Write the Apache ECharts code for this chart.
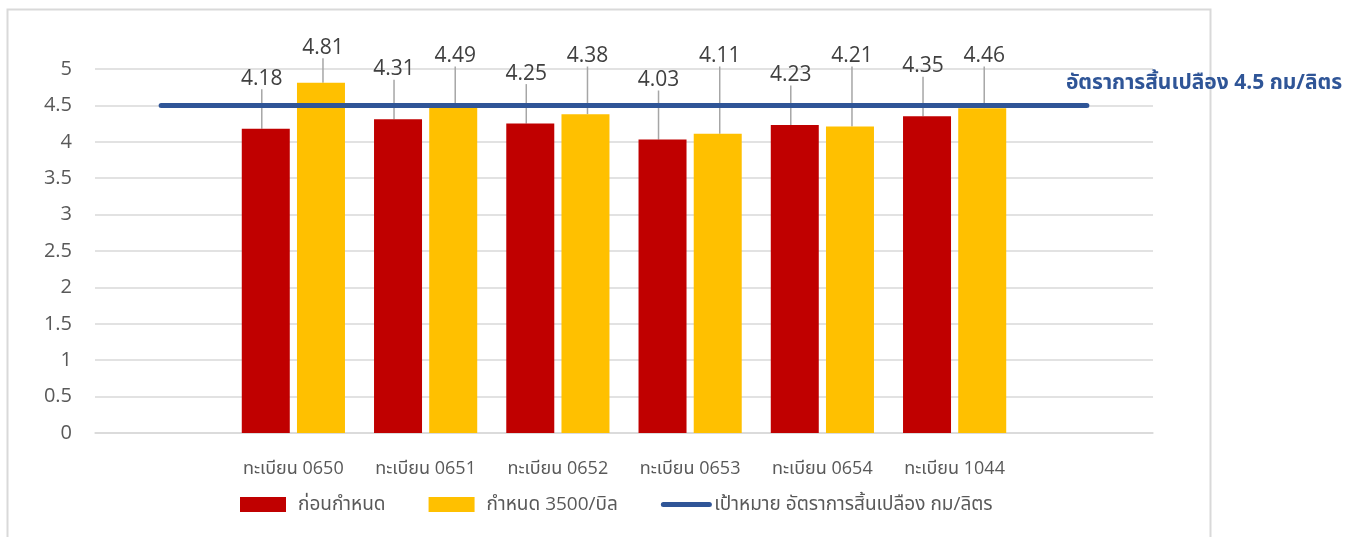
<!DOCTYPE html>
<html>
<head>
<meta charset="utf-8">
<script src="https://cdn.jsdelivr.net/npm/echarts@6/dist/echarts.min.js"></script>
<style>
html,body{margin:0;padding:0;background:#fff;}
#c{width:1358px;height:537px;}
</style>
</head>
<body>
<div id="c"></div>
<script>
const categories = ['', 'ทะเบียน 0650', 'ทะเบียน 0651', 'ทะเบียน 0652', 'ทะเบียน 0653', 'ทะเบียน 0654', 'ทะเบียน 1044', ''];
const beforeValues = [null, 4.18, 4.31, 4.25, 4.03, 4.23, 4.35, null];
const afterValues = [null, 4.81, 4.49, 4.38, 4.11, 4.21, 4.46, null];
const targetValues = [4.5, 4.5, 4.5, 4.5, 4.5, 4.5, 4.5, 4.5];
const seriesNames = ['ก่อนกำหนด', 'กำหนด 3500/บิล', 'เป้าหมาย อัตราการสิ้นเปลือง กม/ลิตร'];
const targetLabel = 'อัตราการสิ้นเปลือง 4.5 กม/ลิตร';
const yTicks = [0, 0.5, 1, 1.5, 2, 2.5, 3, 3.5, 4, 4.5, 5];

const FONT = '"Open Sans", "Noto Sans", "Noto Sans Thai", sans-serif';
const GREY = '#595959';

const chart = echarts.init(document.getElementById('c'), null, {renderer: 'canvas'});
chart.setOption({
  animation: false,
  textStyle: {fontFamily: FONT},
  graphic: [{
    type: 'rect', left: 5, top: 7,
    shape: {width: 1203, height: 540},
    style: {fill: 'none', stroke: '#D9D9D9', lineWidth: 2},
    silent: true
  }],
  grid: {left: 95, right: 205, top: 69, bottom: 104, containLabel: false},
  legend: {
    left: 235, top: 490,
    itemWidth: 46, itemHeight: 15, itemGap: 43,
    textStyle: {fontSize: 19, color: GREY, fontFamily: FONT},
    data: [
      {name: seriesNames[0], icon: 'rect', textStyle: {padding: [0, 0, 0, 7]}},
      {name: seriesNames[1], icon: 'rect', textStyle: {padding: [0, 0, 0, 7]}},
      {name: seriesNames[2], itemStyle: {opacity: 0}, lineStyle: {width: 5, cap: 'round', color: '#2F5597'}}
    ]
  },
  xAxis: {
    type: 'category',
    data: categories,
    axisLine: {show: true, lineStyle: {color: '#D9D9D9', width: 1.5}},
    axisTick: {show: false},
    axisLabel: {color: GREY, fontSize: 18, margin: 27, interval: 0, fontFamily: FONT}
  },
  yAxis: {
    type: 'value',
    min: yTicks[0], max: yTicks[yTicks.length - 1], interval: 0.5,
    axisLine: {show: false},
    axisTick: {show: false},
    axisLabel: {color: GREY, fontSize: 20, margin: 23, fontFamily: FONT},
    splitLine: {lineStyle: {color: '#D9D9D9', width: 1.5}}
  },
  series: [
    {
      name: seriesNames[0], type: 'bar', data: beforeValues,
      barWidth: 48, barGap: '15%',
      itemStyle: {color: '#C00000'},
      label: {show: true, position: 'top', color: '#404040', fontSize: 21, fontFamily: FONT},
      labelLine: {show: true, lineStyle: {color: '#A6A6A6', width: 1.5}},
      labelLayout: function (p) {
        const cx = p.rect.x + p.rect.width / 2;
        return {x: cx - 4, y: Math.min(80, p.rect.y - 50), align: 'center', verticalAlign: 'middle'};
      }
    },
    {
      name: seriesNames[1], type: 'bar', data: afterValues,
      barWidth: 48, barGap: '15%',
      itemStyle: {color: '#FFC000'},
      label: {show: true, position: 'top', color: '#404040', fontSize: 21, fontFamily: FONT},
      labelLine: {show: true, lineStyle: {color: '#A6A6A6', width: 1.5}},
      labelLayout: function (p) {
        const cx = p.rect.x + p.rect.width / 2;
        return {x: cx + 2, y: Math.min(56, p.rect.y - 35), align: 'center', verticalAlign: 'middle'};
      }
    },
    {
      name: seriesNames[2], type: 'line', data: targetValues,
      symbol: 'none',
      lineStyle: {color: '#2F5597', width: 5, cap: 'round'},
      itemStyle: {color: '#2F5597'},
      endLabel: {
        show: true, formatter: targetLabel,
        color: '#2F5597', fontSize: 21, fontWeight: 'bold', fontFamily: FONT,
        offset: [-29, -22]
      },
      z: 5
    }
  ]
});
</script>
</body>
</html>
